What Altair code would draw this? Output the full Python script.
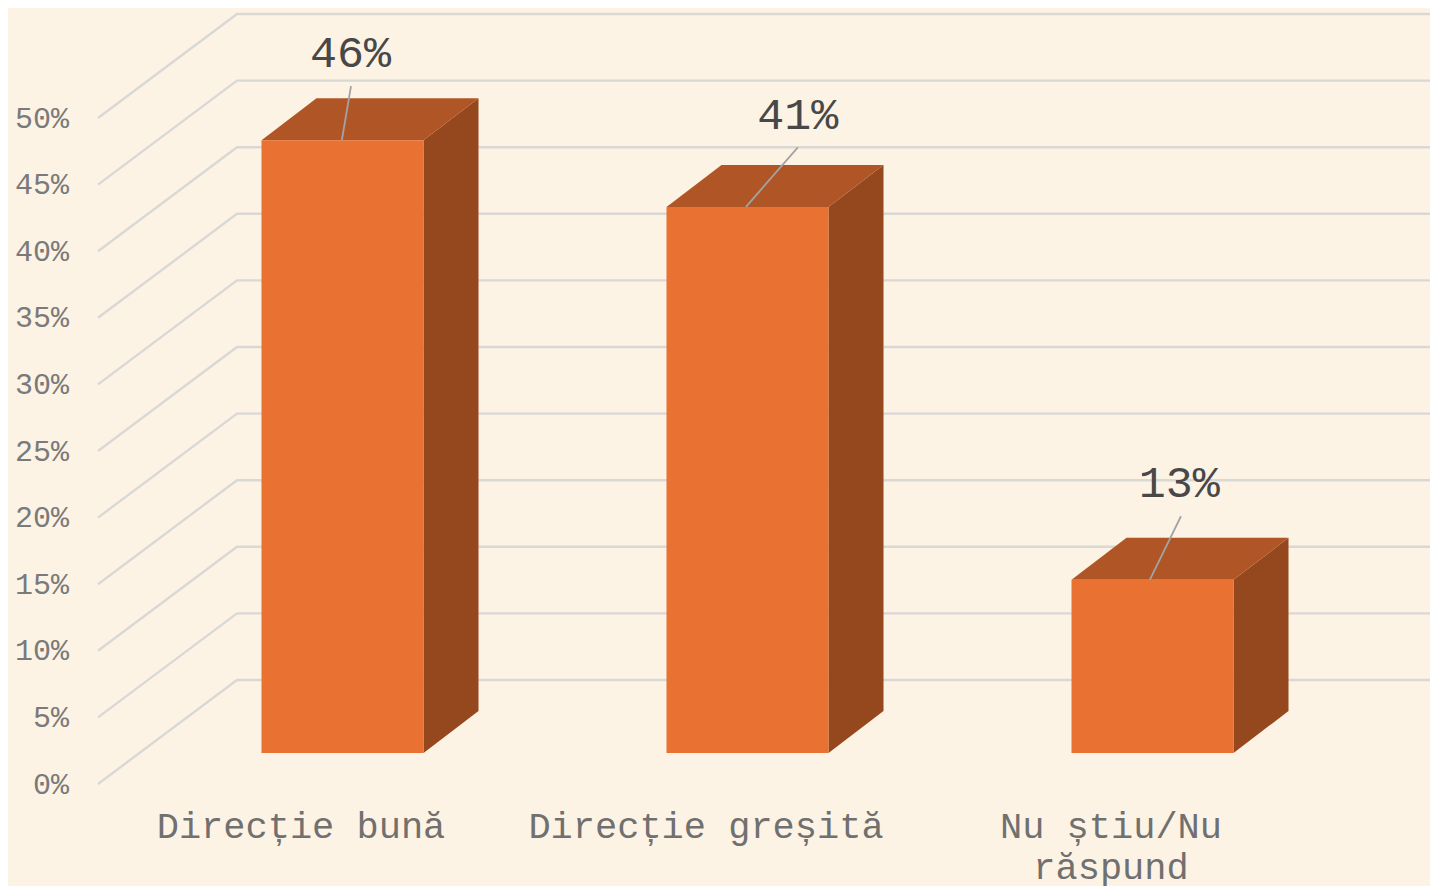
import json
import altair as alt
import pandas as pd

categories = ["Direcție bună", "Direcție greșită", ["Nu știu/Nu", "răspund"]]
values = [46, 41, 13]
ticks = [0, 5, 10, 15, 20, 25, 30, 35, 40, 45, 50]
# hand-placed data-label anchors, in axis units
label_x = [0.6235, 1.728, 2.670]
label_y = [54.87, 50.22, 22.57]
leader_end_x = [0.6247, 1.728, 2.674]
leader_end_y = [52.4, 47.8, 20.1]
leader_start_x = [0.602, 1.600, 2.597]

PLOT_W, PLOT_H = 1332, 775
X_MAX = PLOT_W / 405
Y_MAX = PLOT_H / 13.32
WALL_DX, WALL_DY = 139 / 405, 104 / 13.32
BAR_DX, BAR_DY = 55 / 405, 42 / 13.32
BASE_DX, BASE_DY = 42 / 405, 31 / 13.32
BAR_W = 162 / 405

x_scale = alt.Scale(domain=[0, X_MAX], nice=False, zero=False)
y_scale = alt.Scale(domain=[0, Y_MAX], nice=False, zero=False)
label_expr = "(" + json.dumps(categories, ensure_ascii=False) + ")[floor(datum.value)]"
x_axis = alt.Axis(
    values=[0.5, 1.5, 2.5], labelExpr=label_expr, grid=False, domain=False, ticks=False, title=None,
    labelFont="Liberation Mono", labelFontSize=37, labelColor="#707070", labelPadding=24,
    labelAngle=0, labelAlign="center", labelOverlap=False, labelFlush=False, labelLineHeight=41,
    labelBaseline="top", labelLimit=0)
y_axis = alt.Axis(
    values=ticks, labelExpr="datum.value + '%'", grid=False, domain=False, ticks=False, title=None,
    labelFont="Liberation Mono", labelFontSize=30, labelColor="#7a7a7a", labelPadding=29.5,
    labelOverlap=False, labelFlush=False)
X = lambda name="x": alt.X(f"{name}:Q", scale=x_scale, axis=x_axis)
Y = lambda name="y": alt.Y(f"{name}:Q", scale=y_scale, axis=y_axis)

grid = pd.DataFrame(
    [dict(t=t, s=s, x=x, y=y) for t in ticks
     for s, (x, y) in enumerate([(0, t), (WALL_DX, t + WALL_DY), (X_MAX, t + WALL_DY)])]
)

front, top, side, leaders, labels = [], [], [], [], []
for i, v in enumerate(values):
    l = i + 0.5 + BASE_DX - BAR_W / 2
    r = l + BAR_W
    b = BASE_DY
    t = b + v
    front.append(dict(x=l, x2=r, y=b, y2=t))
    for x, y, y2 in [(l, t, t), (l + BAR_DX, t + BAR_DY, t), (r, t + BAR_DY, t), (r + BAR_DX, t + BAR_DY, t + BAR_DY)]:
        top.append(dict(c=i, x=x, y=y, y2=y2))
    for x, y, y2 in [(r, t, b), (r + BAR_DX, t + BAR_DY, b + BAR_DY)]:
        side.append(dict(c=i, x=x, y=y, y2=y2))
    leaders.append(dict(x=leader_start_x[i], x2=leader_end_x[i], y=t, y2=leader_end_y[i]))
    labels.append(dict(x=label_x[i], y=label_y[i], text=f"{v}%"))

grid_layer = alt.Chart(grid).mark_line(color="#DAD8D5", strokeWidth=2.4).encode(
    x=X(), y=Y(), detail="t:N", order="s:Q")
side_layer = alt.Chart(pd.DataFrame(side)).mark_area(color="#95471E", line=False).encode(
    x=X(), y=Y(), y2="y2:Q", detail="c:N")
top_layer = alt.Chart(pd.DataFrame(top)).mark_area(color="#B05626").encode(
    x=X(), y=Y(), y2="y2:Q", detail="c:N")
front_layer = alt.Chart(pd.DataFrame(front)).mark_rect(color="#E97132").encode(
    x=X(), x2="x2:Q", y=Y(), y2="y2:Q")
leader_layer = alt.Chart(pd.DataFrame(leaders)).mark_rule(color="#A3A3A3", strokeWidth=1.8).encode(
    x=X(), x2="x2:Q", y=Y(), y2="y2:Q")
label_layer = alt.Chart(pd.DataFrame(labels)).mark_text(
    font="Liberation Mono", fontSize=45, color="#484848", align="center", baseline="middle"
).encode(x=X(), y=Y(), text="text:N")

chart = alt.layer(
    grid_layer, side_layer, top_layer, front_layer, leader_layer, label_layer
).properties(
    width=PLOT_W, height=PLOT_H, background="#FDF3E5",
    padding={"left": 90, "top": 1, "right": 0, "bottom": 102},
    autosize=alt.AutoSizeParams(type="none"),
).configure_view(stroke=None)

chart.save("out.html", embed_options={"renderer": "svg", "actions": False})
